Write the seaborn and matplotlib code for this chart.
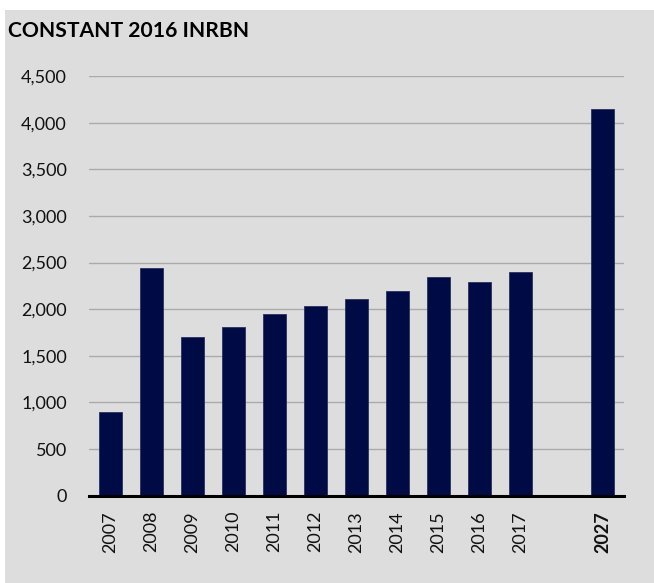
import matplotlib
matplotlib.use("Agg")
import matplotlib.pyplot as plt
import matplotlib.patches as mpatches
import seaborn as sns
import pandas as pd

years = ["2007", "2008", "2009", "2010", "2011", "2012", "2013", "2014",
         "2015", "2016", "2017", "2027"]
values = [900, 2440, 1700, 1810, 1945, 2030, 2105, 2190, 2340, 2290, 2395, 4150]
order = years[:11] + [""] + years[11:]
yticks = [0, 500, 1000, 1500, 2000, 2500, 3000, 3500, 4000, 4500]
title = "CONSTANT 2016 INRBN"

sns.set_theme(style="white")
plt.rcParams["font.family"] = ["Lato", "DejaVu Sans"]

bg = "#dddddd"
navy = "#000a45"

fig = plt.figure(figsize=(6.54, 5.83), dpi=100, facecolor=bg)
# white strips at top and left edges
fig.patches.append(mpatches.Rectangle((0, 1 - 10 / 583), 1, 10 / 583,
                                      transform=fig.transFigure, facecolor="white",
                                      edgecolor="none", zorder=-10))
fig.patches.append(mpatches.Rectangle((0, 0), 5 / 654, 1,
                                      transform=fig.transFigure, facecolor="white",
                                      edgecolor="none", zorder=-10))
ax = fig.add_axes([89 / 654, 1 - 495.7 / 583, (624 - 89) / 654, (495.7 - 76) / 583])
ax.set_facecolor(bg)

df = pd.DataFrame({"year": years, "value": values})
sns.barplot(data=df, x="year", y="value", order=order, color=navy,
            saturation=1, width=0.55, ax=ax, zorder=3,
            edgecolor="#2a3060", linewidth=0.6)

ax.set_ylim(0, 4500)
ax.set_xlim(-0.52, 12.52)
ax.set_yticks(yticks)
ax.set_yticklabels([f"{v:,}" for v in yticks], fontsize=13, color="#111111")
ax.yaxis.grid(True, color="#aaaaaa", linewidth=1.0, zorder=0)
ax.set_axisbelow(True)
ax.tick_params(axis="y", length=0, pad=16)
ax.tick_params(axis="x", length=0, pad=11)
labels = ax.get_xticklabels()
for lab in labels:
    lab.set_rotation(90)
    lab.set_fontsize(13)
    lab.set_color("#111111")
    if lab.get_text() == "2027":
        lab.set_fontweight("bold")
ax.set_xlabel("")
ax.set_ylabel("")
for s in ["top", "right", "left"]:
    ax.spines[s].set_visible(False)
ax.spines["bottom"].set_color("black")
ax.spines["bottom"].set_linewidth(2.2)
ax.spines["bottom"].set_zorder(5)

fig.text(8 / 654, 1 - 31 / 583, title, fontsize=15.2, fontweight="bold",
         color="black", va="center", ha="left")

fig.savefig("out.png", dpi=100, facecolor=fig.get_facecolor())
